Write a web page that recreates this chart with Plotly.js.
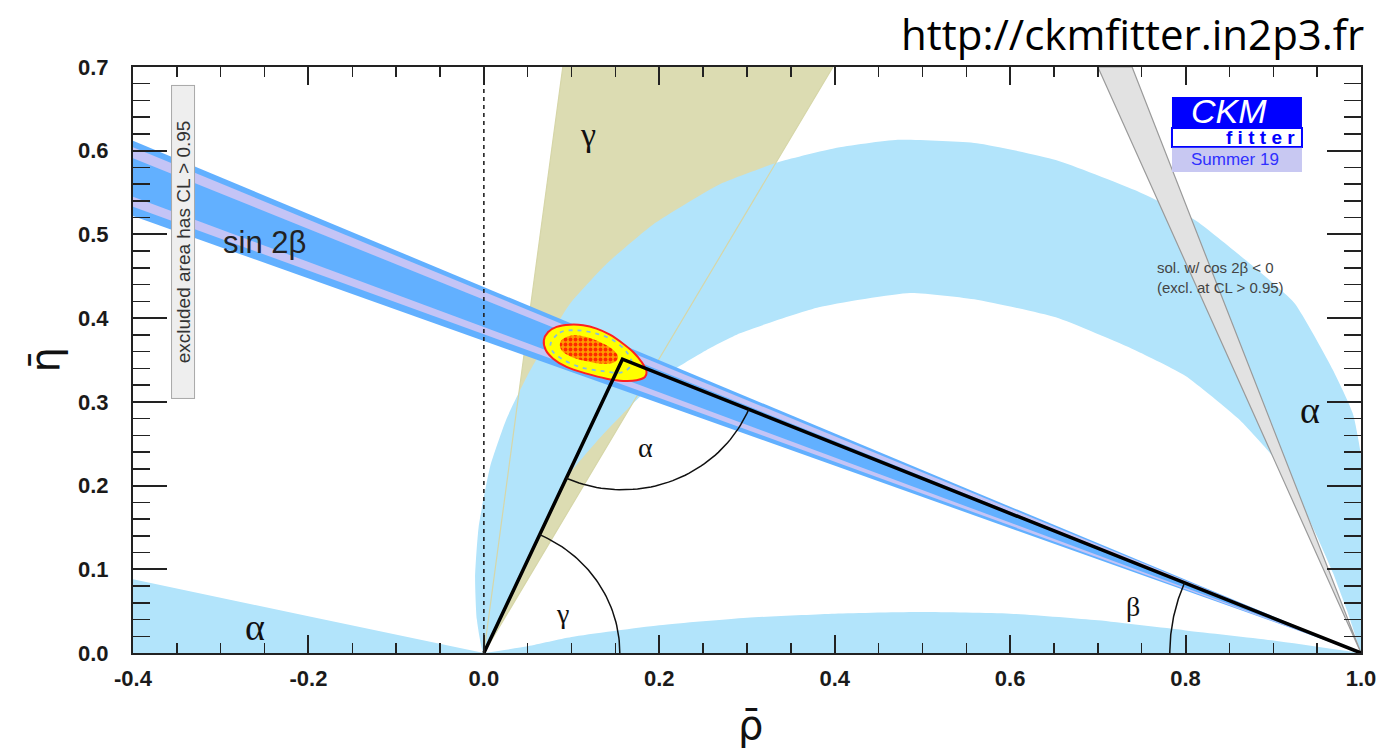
<!DOCTYPE html>
<html>
<head>
<meta charset="utf-8">
<script src="https://cdn.plot.ly/plotly-3.0.1.min.js"></script>
<style>html,body{margin:0;padding:0;background:#fff;}#chart{width:1386px;height:753px;}</style>
</head>
<body>
<div id="chart"></div>
<script>
// ---- tick labels ----
const xTickVals = [-0.4, -0.2, 0.0, 0.2, 0.4, 0.6, 0.8, 1.0];
const xTickText = ['-0.4', '-0.2', '0.0', '0.2', '0.4', '0.6', '0.8', '1.0'];
const yTickVals = [0.0, 0.1, 0.2, 0.3, 0.4, 0.5, 0.6, 0.7];
const yTickText = ['0.0', '0.1', '0.2', '0.3', '0.4', '0.5', '0.6', '0.7'];

// ---- gamma constraint wedge (rho, eta) ----
const gammaRho = [0.0, 0.090, 0.398];
const gammaEta = [0.0, 0.700, 0.700];

// ---- alpha constraint, main band: outer arc then inner arc ----
const alphaOuterRho = [0.000, -0.008, -0.010, -0.006, 0.007, 0.026, 0.049, 0.075, 0.098, 0.140, 0.193, 0.269, 0.338, 0.400, 0.472, 0.562, 0.652, 0.742, 0.811, 0.878, 0.924, 0.968, 0.991, 1.004, 1.009, 1.008, 1.004, 1.000];
const alphaOuterEta = [0.000, 0.040, 0.090, 0.150, 0.222, 0.280, 0.330, 0.378, 0.417, 0.465, 0.512, 0.560, 0.587, 0.603, 0.613, 0.609, 0.589, 0.553, 0.517, 0.461, 0.418, 0.338, 0.285, 0.210, 0.140, 0.080, 0.030, 0.000];
const alphaInnerRho = [1.000, 0.984, 0.968, 0.950, 0.930, 0.900, 0.860, 0.800, 0.742, 0.652, 0.562, 0.486, 0.382, 0.292, 0.254, 0.216, 0.178, 0.135, 0.095, 0.048, 0.000];
const alphaInnerEta = [0.000, 0.051, 0.096, 0.139, 0.183, 0.234, 0.280, 0.331, 0.362, 0.401, 0.422, 0.430, 0.413, 0.382, 0.362, 0.338, 0.306, 0.260, 0.210, 0.108, 0.000];

// ---- alpha constraint, lower solutions ----
const alphaLowRho = [0.00, 0.05, 0.10, 0.20, 0.30, 0.40, 0.50, 0.60, 0.70, 0.80, 0.90, 1.00];
const alphaLowEta = [0.000, 0.008, 0.019, 0.033, 0.042, 0.047, 0.049, 0.047, 0.039, 0.027, 0.015, 0.000];
const alphaLeftRho = [-0.40, -0.40, -0.20, 0.00];
const alphaLeftEta = [0.000, 0.088, 0.044, 0.000];

// ---- sin 2beta solution with cos 2beta < 0 (excluded) ----
const cos2bRho = [1.0, 0.700, 0.739];
const cos2bEta = [0.0, 0.700, 0.700];

// ---- sin 2beta band (rays from (1,0)); eta values at rho = -0.4 ----
const s2bApexRho = 1.0;
const s2bEdgeRho = -0.4;
const s2bOuterEta = [0.612, 0.522];
const s2bLavUpperEta = [0.604, 0.591];
const s2bLavLowerEta = [0.545, 0.533];

// ---- global fit contours ----
const fit95Rho = [0.0684, 0.0733, 0.0829, 0.0981, 0.1132, 0.1285, 0.1437, 0.1588, 0.1702, 0.1798, 0.1855, 0.1836, 0.1741, 0.1588, 0.1399, 0.1171, 0.0943, 0.0790, 0.0707, 0.0684];
const fit95Eta = [0.3736, 0.3835, 0.3895, 0.3922, 0.3915, 0.3875, 0.3803, 0.3695, 0.3596, 0.3477, 0.3357, 0.3297, 0.3258, 0.3250, 0.3277, 0.3337, 0.3417, 0.3516, 0.3616, 0.3736];
const fitMidRho = [0.0761, 0.0867, 0.1057, 0.1285, 0.1474, 0.1627, 0.1684, 0.1588, 0.1360, 0.1095, 0.0886, 0.0783, 0.0761];
const fitMidEta = [0.3695, 0.3827, 0.3855, 0.3815, 0.3736, 0.3596, 0.3456, 0.3357, 0.3366, 0.3417, 0.3516, 0.3605, 0.3695];
const fit68Rho = [0.0867, 0.0904, 0.1018, 0.1171, 0.1323, 0.1456, 0.1531, 0.1494, 0.1360, 0.1171, 0.1000, 0.0886, 0.0867];
const fit68Eta = [0.3695, 0.3755, 0.3796, 0.3775, 0.3716, 0.3636, 0.3536, 0.3477, 0.3456, 0.3485, 0.3536, 0.3616, 0.3695];

// ---- unitarity triangle ----
const triRho = [0.0, 0.158, 1.0];
const triEta = [0.0, 0.351, 0.0];

// ---- colours ----
const cAlpha = '#b2e4fb', cGamma = '#dcdcb2', cS2b = '#62b0ff', cLav = '#c4c4f6', cGrey = '#e2e2e2';

function arcPts(cx, cy, r, a0, a1) {
  const xs = [], ys = [];
  const n = 48;
  for (let i = 0; i <= n; i++) {
    const a = a0 + (a1 - a0) * i / n;
    xs.push(cx + r * Math.cos(a));
    ys.push(cy + r * Math.sin(a));
  }
  return [xs, ys];
}

const traces = [];
function poly(x, y, fill, extra) {
  traces.push(Object.assign({type: 'scatter', mode: 'lines', x: x, y: y, fill: 'toself', fillcolor: fill,
    line: {width: 0, color: fill}, hoverinfo: 'skip'}, extra || {}));
}
// gamma wedge
poly(gammaRho, gammaEta, cGamma);
// alpha regions
poly(alphaOuterRho.concat(alphaInnerRho), alphaOuterEta.concat(alphaInnerEta), cAlpha, {line: {width: 0, color: cAlpha, shape: 'spline', smoothing: 0.5}});
poly(alphaLowRho, alphaLowEta, cAlpha, {line: {width: 0, color: cAlpha, shape: 'spline', smoothing: 0.6}});
poly(alphaLeftRho, alphaLeftEta, cAlpha);
// gamma wedge edges seen through
traces.push({type: 'scatter', mode: 'lines', x: [gammaRho[1], gammaRho[0], gammaRho[2]], y: [gammaEta[1], gammaEta[0], gammaEta[2]],
  line: {width: 1.2, color: '#d6d6a8'}, hoverinfo: 'skip'});
// cos2beta<0 wedge
poly(cos2bRho.concat([cos2bRho[0]]), cos2bEta.concat([cos2bEta[0]]), cGrey, {line: {width: 1.2, color: '#9a9a9a'}});
// sin 2beta band
poly([s2bEdgeRho, s2bApexRho, s2bEdgeRho], [s2bOuterEta[0], 0, s2bOuterEta[1]], cS2b);
poly([s2bEdgeRho, s2bApexRho, s2bEdgeRho], [s2bLavUpperEta[0], 0, s2bLavUpperEta[1]], cLav);
poly([s2bEdgeRho, s2bApexRho, s2bEdgeRho], [s2bLavLowerEta[0], 0, s2bLavLowerEta[1]], cLav);
// dashed rho = 0 line
traces.push({type: 'scatter', mode: 'lines', x: [0, 0], y: [yTickVals[0], yTickVals[yTickVals.length - 1]],
  line: {width: 1.6, color: '#222', dash: '4px,4px'}, hoverinfo: 'skip'});
// fit contours
poly(fit95Rho, fit95Eta, '#ffff00', {line: {width: 2, color: '#ff2020', shape: 'spline', smoothing: 1}});
poly(fit68Rho, fit68Eta, '#ff8a00', {line: {width: 0, color: '#ff6000', shape: 'spline', smoothing: 1},
  fillpattern: {shape: '.', bgcolor: '#ff9a00', fgcolor: '#ff2a00', size: 5, solidity: 0.45}});
traces.push({type: 'scatter', mode: 'lines', x: fitMidRho, y: fitMidEta,
  line: {width: 1.8, color: '#86bde0', dash: '4px,5px', shape: 'spline', smoothing: 1}, hoverinfo: 'skip'});
// triangle
traces.push({type: 'scatter', mode: 'lines', x: triRho, y: triEta, line: {width: 3.5, color: '#000'}, hoverinfo: 'skip'});
// angle arcs
const A = [triRho[0], triEta[0]], P = [triRho[1], triEta[1]], B = [triRho[2], triEta[2]];
const gArc = arcPts(A[0], A[1], 0.155, 0, Math.atan2(P[1] - A[1], P[0] - A[0]));
const aArc = arcPts(P[0], P[1], 0.156, Math.atan2(A[1] - P[1], A[0] - P[0]), Math.atan2(B[1] - P[1], B[0] - P[0]));
const bArc = arcPts(B[0], B[1], 0.218, Math.atan2(P[1] - B[1], P[0] - B[0]), Math.PI);
[gArc, aArc, bArc].forEach(a => traces.push({type: 'scatter', mode: 'lines', x: a[0], y: a[1],
  line: {width: 1.5, color: '#111'}, hoverinfo: 'skip'}));

const serif = 'Liberation Serif';
const sans = 'Liberation Sans';
const annotations = [
  {text: 'http://ckmfitter.in2p3.fr', xref: 'paper', yref: 'paper', x: 1.004, y: 1.058, xanchor: 'right', yanchor: 'middle',
    showarrow: false, font: {family: 'Open Sans', size: 42, color: '#000'}},
  {text: 'ρ\u0304', xref: 'paper', yref: 'paper', x: 0.503, y: -0.123, xanchor: 'center', yanchor: 'middle', showarrow: false,
    font: {family: 'DejaVu Sans', size: 40, color: '#111'}},
  {text: 'η\u0304', xref: 'paper', yref: 'paper', x: -0.072, y: 0.50, xanchor: 'center', yanchor: 'middle', showarrow: false,
    textangle: -90, font: {family: 'DejaVu Sans', size: 40, color: '#111'}},
  {text: 'γ', x: 0.119, y: 0.619, showarrow: false, font: {family: serif, size: 34, color: '#111'}},
  {text: 'sin 2β', x: -0.25, y: 0.49, showarrow: false, font: {family: sans, size: 31, color: '#222'}},
  {text: 'α', x: 0.942, y: 0.290, showarrow: false, font: {family: serif, size: 38, color: '#111'}},
  {text: 'α', x: -0.261, y: 0.031, showarrow: false, font: {family: serif, size: 38, color: '#111'}},
  {text: 'α', x: 0.184, y: 0.246, showarrow: false, font: {family: serif, size: 28, color: '#111'}},
  {text: 'γ', x: 0.090, y: 0.047, showarrow: false, font: {family: serif, size: 28, color: '#111'}},
  {text: 'β', x: 0.740, y: 0.055, showarrow: false, font: {family: serif, size: 28, color: '#111'}},
  {text: 'sol. w/ cos 2β < 0<br>(excl. at CL > 0.95)', x: 0.765, y: 0.448, xanchor: 'left', yanchor: 'middle', align: 'left',
    showarrow: false, font: {family: sans, size: 15, color: '#444'}},
  {text: 'excluded area has CL > 0.95', x: -0.343, y: 0.491, showarrow: false, textangle: -90, width: 312, height: 22,
    bgcolor: '#eeeeee', bordercolor: '#a8a8a8', borderwidth: 1, borderpad: 0, font: {family: sans, size: 19, color: '#333'}},
  {text: '<i>CKM</i>', x: 0.8495, y: 0.6476, showarrow: false, font: {family: sans, size: 34, color: '#ffffff'}},
  {text: '<b>f i t t e r</b>', x: 0.9270, y: 0.6158, xanchor: 'right', showarrow: false, font: {family: sans, size: 19, color: '#0000ff'}},
  {text: 'Summer 19', x: 0.8563, y: 0.5895, showarrow: false, font: {family: sans, size: 17, color: '#3030ff'}}
];
annotations.forEach(a => { if (!a.xref) { a.xref = 'x'; a.yref = 'y'; } });

const shapes = [
  {type: 'rect', xref: 'x', yref: 'y', x0: 0.7845, x1: 0.9327, y0: 0.6272, y1: 0.6643, fillcolor: '#0000ff', line: {width: 0}, layer: 'above'},
  {type: 'rect', xref: 'x', yref: 'y', x0: 0.7845, x1: 0.9327, y0: 0.6045, y1: 0.6272, fillcolor: '#ffffff', line: {width: 2, color: '#0000ff'}, layer: 'above'},
  {type: 'rect', xref: 'x', yref: 'y', x0: 0.7845, x1: 0.9327, y0: 0.5747, y1: 0.6035, fillcolor: '#c8c8f2', line: {width: 0}, layer: 'above'}
];

const tickFont = {family: sans, size: 22, color: '#1a1a1a', weight: 'bold'};
const layout = {
  width: 1386, height: 753,
  margin: {l: 133, r: 25, t: 67, b: 100},
  paper_bgcolor: '#ffffff', plot_bgcolor: '#ffffff',
  showlegend: false,
  xaxis: {range: [-0.4, 1.0], tickmode: 'array', tickvals: xTickVals, ticktext: xTickText,
    ticks: 'inside', ticklen: 18, tickwidth: 2, tickcolor: '#222', showline: true, linewidth: 2, linecolor: '#222',
    mirror: 'allticks', showgrid: false, zeroline: false, tickfont: tickFont, ticklabelstandoff: 5,
    minor: {tickmode: 'linear', tick0: 0, dtick: 0.05, ticks: 'inside', ticklen: 10, tickwidth: 1.5, tickcolor: '#222', showgrid: false}},
  yaxis: {range: [0, 0.7], tickmode: 'array', tickvals: yTickVals, ticktext: yTickText,
    ticks: 'inside', ticklen: 34, tickwidth: 2, tickcolor: '#222', showline: true, linewidth: 2, linecolor: '#222',
    mirror: 'allticks', showgrid: false, zeroline: false, tickfont: tickFont, ticklabelstandoff: 18,
    minor: {tickmode: 'linear', tick0: 0, dtick: 0.02, ticks: 'inside', ticklen: 17, tickwidth: 1.5, tickcolor: '#222', showgrid: false}},
  annotations: annotations,
  shapes: shapes
};

Plotly.newPlot('chart', traces, layout, {staticPlot: true, displayModeBar: false});
</script>
</body>
</html>
